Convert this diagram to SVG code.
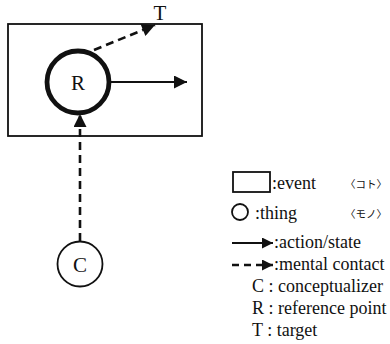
<svg xmlns="http://www.w3.org/2000/svg" width="390" height="344" viewBox="0 0 390 344">
<style>
.t{font-family:"Liberation Serif",serif;font-size:18px;fill:#111}
.j{font-family:"Noto Sans CJK JP",sans-serif;font-size:10.5px;fill:#111}
.big{font-family:"Liberation Serif",serif;font-size:21px;fill:#111}
.ln{stroke:#111;stroke-width:1.8;fill:none}
.ds{stroke:#111;stroke-width:2.6;fill:none;stroke-dasharray:8,5}
</style>
<defs>
<marker id="ahb" viewBox="0 0 10 10" refX="10" refY="5" markerWidth="17" markerHeight="13" markerUnits="userSpaceOnUse" orient="auto"><path d="M0,0 L10,5 L0,10 z" fill="#111"/></marker>
<marker id="ahs" viewBox="0 0 10 10" refX="10" refY="5" markerWidth="15" markerHeight="11" markerUnits="userSpaceOnUse" orient="auto"><path d="M0,0 L10,5 L0,10 z" fill="#111"/></marker>
</defs>
<g id="event">
<rect x="8" y="24" width="194" height="112" class="ln"/>
</g>
<g id="R">
<circle cx="78" cy="82" r="31" fill="none" stroke="#111" stroke-width="4.8"/>
<text x="78" y="90" text-anchor="middle" class="big">R</text>
</g>
<g id="C">
<circle cx="80" cy="264" r="22.5" class="ln"/>
<text x="80" y="272" text-anchor="middle" class="big">C</text>
</g>
<g id="T">
<text x="160" y="20" text-anchor="middle" class="big">T</text>
</g>
<g id="connectors">
<line x1="110" y1="82" x2="187" y2="82" class="ln" marker-end="url(#ahb)"/>
<line x1="94" y1="50" x2="155" y2="25" class="ds" marker-end="url(#ahb)"/>
<line x1="80" y1="241" x2="80" y2="114" class="ds" marker-end="url(#ahb)"/>
</g>
<g id="legend">
<rect x="233" y="172" width="37" height="20" class="ln"/>
<text x="272" y="189" class="t">:event</text>
<text x="345" y="188" class="j">〈コト〉</text>
<circle cx="240" cy="212" r="8" class="ln"/>
<text x="255" y="219" class="t">:thing</text>
<text x="345" y="218" class="j">〈モノ〉</text>
<line x1="232" y1="243" x2="273" y2="243" class="ln" marker-end="url(#ahs)"/>
<text x="274" y="248" class="t">:action/state</text>
<line x1="232" y1="265" x2="273" y2="265" stroke="#111" stroke-width="2.4" stroke-dasharray="7,5" marker-end="url(#ahs)"/>
<text x="274" y="270" class="t">:mental contact</text>
<text x="252" y="292" class="t">C : conceptualizer</text>
<text x="252" y="314" class="t">R : reference point</text>
<text x="252" y="336" class="t">T : target</text>
</g>
</svg>
